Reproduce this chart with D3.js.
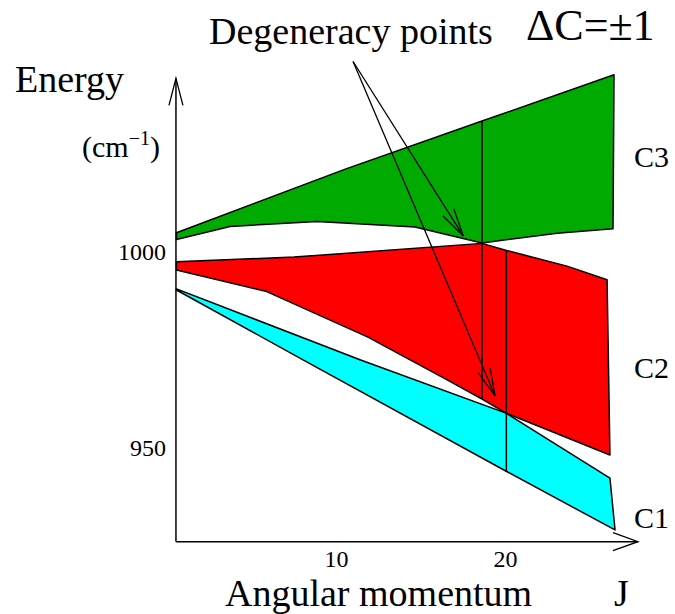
<!DOCTYPE html>
<html>
<head>
<meta charset="utf-8">
<script src="https://cdn.jsdelivr.net/npm/d3@7"></script>
<style>
	body { margin: 0; background: #fff; }
	svg { display: block; }
	svg text { font-family: 'Liberation Serif', 'DejaVu Serif', Times, serif; fill: #000; }
</style>
</head>
<body>
<div id="chart"></div>
<script>
// band edges, [J, energy in cm-1]
var c3Upper = [[0.56, 1004.9], [10.59, 1021.2], [18.64, 1033.4], [26.45, 1045.2]];
var c3Lower = [[0.56, 1003.2], [3.73, 1006.5], [8.88, 1007.8], [14.67, 1006.4], [18.64, 1002.3], [23.08, 1004.8], [26.39, 1005.9]];
var c2Upper = [[0.56, 997.5], [7.51, 998.7], [18.64, 1002.2], [20.09, 1000.4], [23.67, 996.4], [26.04, 992.9]];
var c2Lower = [[0.56, 995.4], [5.90, 989.9], [11.89, 978.3], [16.36, 967.9], [18.64, 962.5], [20.06, 958.9], [26.21, 948.2]];
var c1Upper = [[0.56, 990.6], [11.42, 972.5], [20.06, 958.9], [26.21, 942.3]];
var c1Lower = [[0.56, 990.3], [8.05, 972.5], [20.10, 944.0], [26.51, 929.1]];

var bandNames = ["C3", "C2", "C1"];
var bandColors = ["#00aa00", "#ff0000", "#00ffff"];

// degeneracy verticals: J, top energy, bottom energy
var degeneracyJ = [18.64, 20.08];
var degeneracyTop = [1033.4, 1000.4];
var degeneracyBottom = [962.5, 944.0];

// pointer arrows
var arrowFrom = [11.01, 1048.6];
var arrowTo = [[17.53, 1004.1], [19.41, 963.3]];

var xTicks = [10, 20];
var yTicks = [950, 1000];

var width = 675, height = 614;
var serif = "'Liberation Serif', 'DejaVu Serif', Times, serif";

var x = d3.scaleLinear().domain([10, 20]).range([336, 505]);
var y = d3.scaleLinear().domain([950, 1000]).range([448, 252]);

var xMin = 0.53, xMax = 27.87, yMin = 926.1, yMax = 1044.3;

var svg = d3.select("#chart").append("svg")
	.attr("width", width)
	.attr("height", height)
	.attr("font-family", serif);

var bands = [
	c3Upper.concat(c3Lower.slice().reverse()),
	c2Upper.concat(c2Lower.slice().reverse()),
	c1Upper.concat(c1Lower.slice().reverse())
];

var line = d3.line()
	.x(function(d) { return x(d[0]); })
	.y(function(d) { return y(d[1]); });

// filled bands
svg.selectAll("path.band")
	.data(bands)
	.enter()
		.append("path")
		.attr("class", "band")
		.attr("d", function(d) { return line(d) + "Z"; })
		.attr("fill", function(d, i) { return bandColors[i]; })
		.attr("stroke", "#000")
		.attr("stroke-width", 1.5)
		.attr("stroke-linejoin", "round");

// vertical lines at the degeneracies
svg.selectAll("line.degen")
	.data(degeneracyJ)
	.enter()
		.append("line")
		.attr("class", "degen")
		.attr("x1", function(d) { return x(d); })
		.attr("x2", function(d) { return x(d); })
		.attr("y1", function(d, i) { return y(degeneracyTop[i]); })
		.attr("y2", function(d, i) { return y(degeneracyBottom[i]); })
		.attr("stroke", "#000")
		.attr("stroke-width", 1.5);

// open V arrow head
function arrowHead(g, x0, y0, x1, y1, len, half) {
	var dx = x1 - x0, dy = y1 - y0;
	var l = Math.sqrt(dx * dx + dy * dy);
	var ux = dx / l, uy = dy / l;
	var bx = x1 - ux * len, by = y1 - uy * len;
	g.append("path")
		.attr("d", "M" + (bx - uy * half) + "," + (by + ux * half) +
			"L" + x1 + "," + y1 +
			"L" + (bx + uy * half) + "," + (by - ux * half))
		.attr("fill", "none")
		.attr("stroke", "#000")
		.attr("stroke-width", 1.3);
}

var arrows = svg.append("g");
arrowTo.forEach(function(t) {
	arrows.append("line")
		.attr("x1", x(arrowFrom[0])).attr("y1", y(arrowFrom[1]))
		.attr("x2", x(t[0])).attr("y2", y(t[1]))
		.attr("stroke", "#000")
		.attr("stroke-width", 1.3);
	arrowHead(arrows, x(arrowFrom[0]), y(arrowFrom[1]), x(t[0]), y(t[1]), 28, 6.5);
});

// axes lines with arrows
var axes = svg.append("g");
axes.append("line")
	.attr("x1", x(xMin)).attr("y1", y(yMin))
	.attr("x2", x(xMin)).attr("y2", y(yMax))
	.attr("stroke", "#000").attr("stroke-width", 1.5);
arrowHead(axes, x(xMin), y(yMin), x(xMin), y(yMax), 27, 7);
axes.append("line")
	.attr("x1", x(xMin)).attr("y1", y(yMin))
	.attr("x2", x(xMax)).attr("y2", y(yMin))
	.attr("stroke", "#000").attr("stroke-width", 1.5);
arrowHead(axes, x(xMin), y(yMin), x(xMax), y(yMin), 25, 9);

// tick labels
var xAxis = svg.append("g")
	.attr("transform", "translate(0," + y(yMin) + ")")
	.call(d3.axisBottom(x).tickValues(xTicks).tickFormat(d3.format("d")).tickSize(0).tickPadding(8));
var yAxis = svg.append("g")
	.attr("transform", "translate(" + x(xMin) + ",0)")
	.call(d3.axisLeft(y).tickValues(yTicks).tickFormat(d3.format("d")).tickSize(0).tickPadding(10));
[xAxis, yAxis].forEach(function(a) {
	a.attr("font-family", serif).attr("font-size", 24);
	a.select(".domain").remove();
	a.selectAll("text").attr("fill", "#000");
});

// titles and labels
svg.append("text").attr("x", 209).attr("y", 44).attr("font-size", 38).text("Degeneracy points");
svg.append("text").attr("x", 526).attr("y", 40).attr("font-size", 44).text("ΔC=±1");
svg.append("text").attr("x", 15).attr("y", 92).attr("font-size", 38).text("Energy");

var unit = svg.append("text").attr("x", 82).attr("y", 157).attr("font-size", 30);
unit.append("tspan").text("(cm");
unit.append("tspan").attr("font-size", 20).attr("dy", -12).text("−1");
unit.append("tspan").attr("dy", 12).text(")");

svg.append("text").attr("x", 225).attr("y", 606).attr("font-size", 38).text("Angular momentum");
svg.append("text").attr("x", 614).attr("y", 606).attr("font-size", 38).text("J");

var bandLabelY = [167, 378, 528];
svg.selectAll("text.band")
	.data(bandNames)
	.enter()
		.append("text")
		.attr("class", "band")
		.attr("x", 634)
		.attr("y", function(d, i) { return bandLabelY[i]; })
		.attr("font-size", 30)
		.text(function(d) { return d; });
</script>
</body>
</html>
